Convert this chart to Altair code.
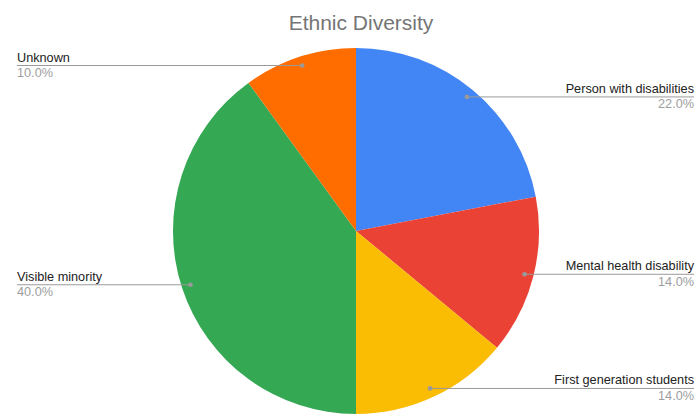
import altair as alt
import pandas as pd

categories = ["Person with disabilities", "Mental health disability",
              "First generation students", "Visible minority", "Unknown"]
values = [22, 14, 14, 40, 10]
colors = ["#4285F4", "#EA4335", "#FBBC04", "#34A853", "#FF6D01"]
title_text = "Ethnic Diversity"

CX, CY, R, RD = 356, 231, 183, 174
LEFT_X, RIGHT_X = 17, 694
FONT = "Liberation Sans, Arial, sans-serif"

df = pd.DataFrame({
    "category": categories,
    "value": values,
    "order": list(range(len(categories))),
})

xs = alt.Scale(domain=[0, 700], range=[0, 700], nice=False, zero=False)
ys = alt.Scale(domain=[0, 420], range=[0, 420], nice=False, zero=False)

base = alt.Chart(df).transform_window(
    cum="sum(value)", frame=[None, 0], sort=[alt.SortField("order")]
).transform_joinaggregate(
    total="sum(value)"
).transform_calculate(
    mid=f"(datum.cum - datum.value/2) / datum.total * 2 * PI",
    px=f"{CX} + {RD} * sin(datum.mid)",
    py=f"{CY} - {RD} * cos(datum.mid)",
    side=f"datum.px < {CX} ? 'left' : 'right'",
    lx=f"datum.px < {CX} ? {LEFT_X} : {RIGHT_X}",
    ny="datum.py - 4",
    pyy="datum.py + 11.5",
    pct="format(datum.value / datum.total * 100, '.1f') + '%'",
)

arcs = alt.Chart(df).mark_arc(outerRadius=R).encode(
    theta=alt.Theta("value:Q", stack=True),
    color=alt.Color("category:N", scale=alt.Scale(domain=categories, range=colors), legend=None),
    order=alt.Order("order:Q"),
    x=alt.value(CX),
    y=alt.value(CY),
)

rules = base.mark_rule(color="#9a9a9a", strokeWidth=1).encode(
    x=alt.X("px:Q", scale=xs, axis=None),
    x2="lx:Q",
    y=alt.Y("py:Q", scale=ys, axis=None),
)

dots = base.mark_circle(size=22, color="#999999", opacity=1).encode(
    x=alt.X("px:Q", scale=xs, axis=None),
    y=alt.Y("py:Q", scale=ys, axis=None),
)

layers = [arcs, rules, dots]
for side, align in [("left", "left"), ("right", "right")]:
    b = base.transform_filter(f"datum.side == '{side}'")
    layers.append(b.mark_text(align=align, baseline="alphabetic", font=FONT,
                              fontSize=12.7, color="#222222").encode(
        x=alt.X("lx:Q", scale=xs, axis=None),
        y=alt.Y("ny:Q", scale=ys, axis=None),
        text="category:N",
    ))
    layers.append(b.mark_text(align=align, baseline="alphabetic", font=FONT,
                              fontSize=12.7, color="#9e9e9e").encode(
        x=alt.X("lx:Q", scale=xs, axis=None),
        y=alt.Y("pyy:Q", scale=ys, axis=None),
        text="pct:N",
    ))

title = alt.Chart(pd.DataFrame({"t": [title_text]})).mark_text(
    align="center", baseline="alphabetic", font=FONT, fontSize=21, color="#757575"
).encode(x=alt.value(361), y=alt.value(29.5), text="t:N")
layers.append(title)

chart = alt.layer(*layers).properties(
    width=700, height=420, autosize=alt.AutoSizeParams(type="none"), padding=0
).configure_view(stroke=None)

chart.save("out.html", embed_options={"renderer": "svg", "actions": False})
